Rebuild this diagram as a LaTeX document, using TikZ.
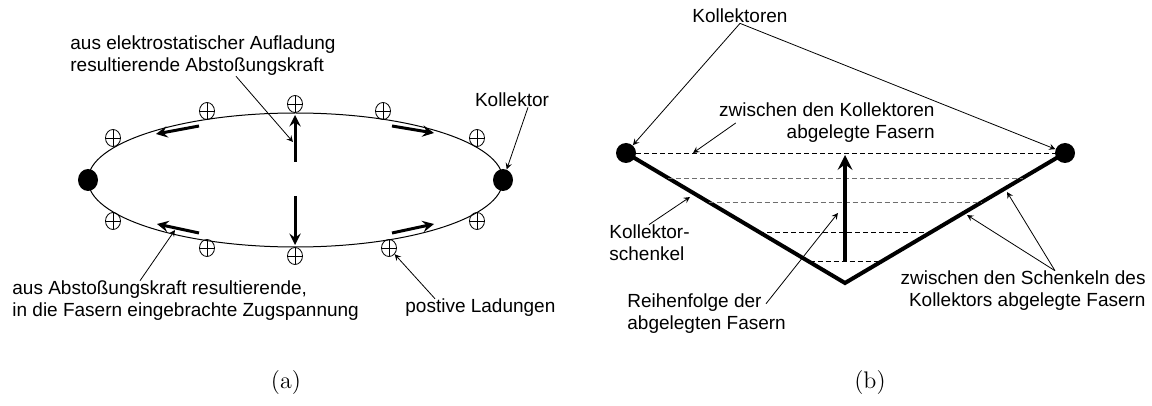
\documentclass[tikz,border=0pt]{standalone}
\usepackage{fontspec}
\newfontfamily\arialfont{Liberation Sans}
\usepackage{tikz}
\usetikzlibrary{arrows,shapes,positioning,calc}
\usepackage{xcolor}
\definecolor{fibregray}{RGB}{110,110,110}
\tikzstyle{annot} = [font=\arialfont\fontsize{9.5}{11}\selectfont, inner sep=0pt]
\tikzstyle{subcap} = [font=\fontsize{12}{14}\selectfont, inner sep=0pt]
\tikzstyle{leader} = [line width=0.4pt,->,>=stealth]
\tikzstyle{force} = [line width=1.5pt,->,>=stealth]
\tikzstyle{order} = [line width=2.2pt,->,>=stealth]
\tikzstyle{leg} = [line width=2pt]
\tikzstyle{fibre} = [line width=0.45pt, dash pattern=on 2.5pt off 1.5pt]
\tikzstyle{collector} = [ellipse, fill=black, inner sep=0pt, minimum width=10pt, minimum height=11pt]
\tikzstyle{dotb} = [circle, fill=black, inner sep=0pt, minimum size=10pt]
\tikzstyle{charge} = [ellipse, draw, line width=0.4pt, inner sep=0pt, minimum width=7.5pt, minimum height=8.5pt,
  path picture={\draw[line width=0.4pt] (path picture bounding box.north) -- (path picture bounding box.south)
    (path picture bounding box.west) -- (path picture bounding box.east);}]

\begin{document}
\begin{tikzpicture}[x=0.5pt, y=-0.5pt]
\useasboundingbox (0,0) rectangle (1152,406);

% (a) fibre loop between two collectors
\draw[line width=0.5pt] (295.5,180) ellipse (103.75pt and 33.5pt);
\node (dotL) [collector] at (88,180) {};
\node (dotR) [collector] at (503,180) {};
\foreach \cx/\cy [count=\i] in {113/138, 207/111, 295/104, 383/111, 477/138,
                                113/221, 207/248, 295/256, 389/248, 477/221}
  \node (c\i) [charge] at (\cx,\cy) {};

% tension along the fibre
\foreach \xa/\ya/\xb/\yb [count=\i] in {199/126/156/134, 392/126/434/133,
                                        199/233/157/224, 392/233/434/224} {
  \coordinate (ts\i) at (\xa,\ya);
  \coordinate (te\i) at (\xb,\yb);
  \draw[force] (ts\i) -- (te\i);
}

% repulsion
\coordinate (up0) at (295,162);
\coordinate (up1) at (295,115);
\coordinate (dn0) at (295,196);
\coordinate (dn1) at (295,245);
\draw[force] (up0) -- (up1);
\draw[force] (dn0) -- (dn1);

\node (lblforce) [annot, anchor=west, align=left] at (70,56) {aus elektrostatischer Aufladung\\resultierende Abstoßungskraft};
\node (lblcoll) [annot] at (512,100) {Kollektor};
\node (lbltension) [annot, anchor=west, align=left] at (12,301) {aus Abstoßungskraft resultierende,\\in die Fasern eingebrachte Zugspannung};
\node (lblcharges) [annot, anchor=west] at (405,308) {postive Ladungen};
\coordinate (pforce) at (293,142);
\coordinate (ptension) at (175,230);

\draw[leader] ([xshift=83pt]lblforce.south west) -- (pforce);
\draw[leader] ([xshift=8pt]lblcoll.south) -- (dotR);
\draw[leader] ([xshift=64pt]lbltension.north west) -- (ptension);
\draw[leader] ([xshift=15pt]lblcharges.north west) -- (c9);

\node (capa) [subcap] at (286,383) {(a)};

% (b) collector with two legs
\node (kl) [dotb] at (626,153) {};
\node (kr) [dotb] at (1065,153) {};
\coordinate (apex) at (845,283);
\draw[leg] (kl.center) -- (apex) -- (kr.center);
\draw[fibre] (kl) -- (kr);
\foreach \t/\col in {0.192/fibregray, 0.377/fibregray, 0.608/black, 0.838/black}
  \draw[fibre, \col] ($(kl.center)!\t!(apex)$) -- ($(kr.center)!\t!(apex)$);

\coordinate (os) at (845,262);
\coordinate (oe) at (845,155);
\draw[order] (os) -- (oe);

\node (lblcolls) [annot] at (740,16) {Kollektoren};
\node (lblfib) [annot, anchor=east, align=right] at (935,123) {zwischen den Kollektoren\\abgelegte Fasern};
\node (lblleg) [annot, anchor=west, align=left] at (609,243) {Kollektor-\\schenkel};
\node (lblorder) [annot, anchor=west, align=left] at (627,314) {Reihenfolge der\\abgelegten Fasern};
\node (lbllegs) [annot, anchor=east, align=right] at (1146,291) {zwischen den Schenkeln des\\Kollektors abgelegte Fasern};

\coordinate (pfib) at (693,153);
\coordinate (pleg) at (690,197);
\coordinate (pord) at (838,213);
\coordinate (plegs1) at (1007,192);
\coordinate (plegs2) at (967,215);

\draw[leader] (lblcolls.south) -- (kl);
\draw[leader] (lblcolls.south) -- (kr);
\draw[leader] ([xshift=8.5pt]lblfib.west) -- (pfib);
\draw[leader] ([xshift=20pt]lblleg.north west) -- (pleg);
\draw[leader] ([xshift=69.5pt,yshift=-5pt]lblorder.north west) -- (pord);
\draw[leader] ([xshift=-45.5pt]lbllegs.north east) -- (plegs1);
\draw[leader] ([xshift=-45.5pt]lbllegs.north east) -- (plegs2);

\node (capb) [subcap] at (870,383) {(b)};
\end{tikzpicture}
\end{document}
